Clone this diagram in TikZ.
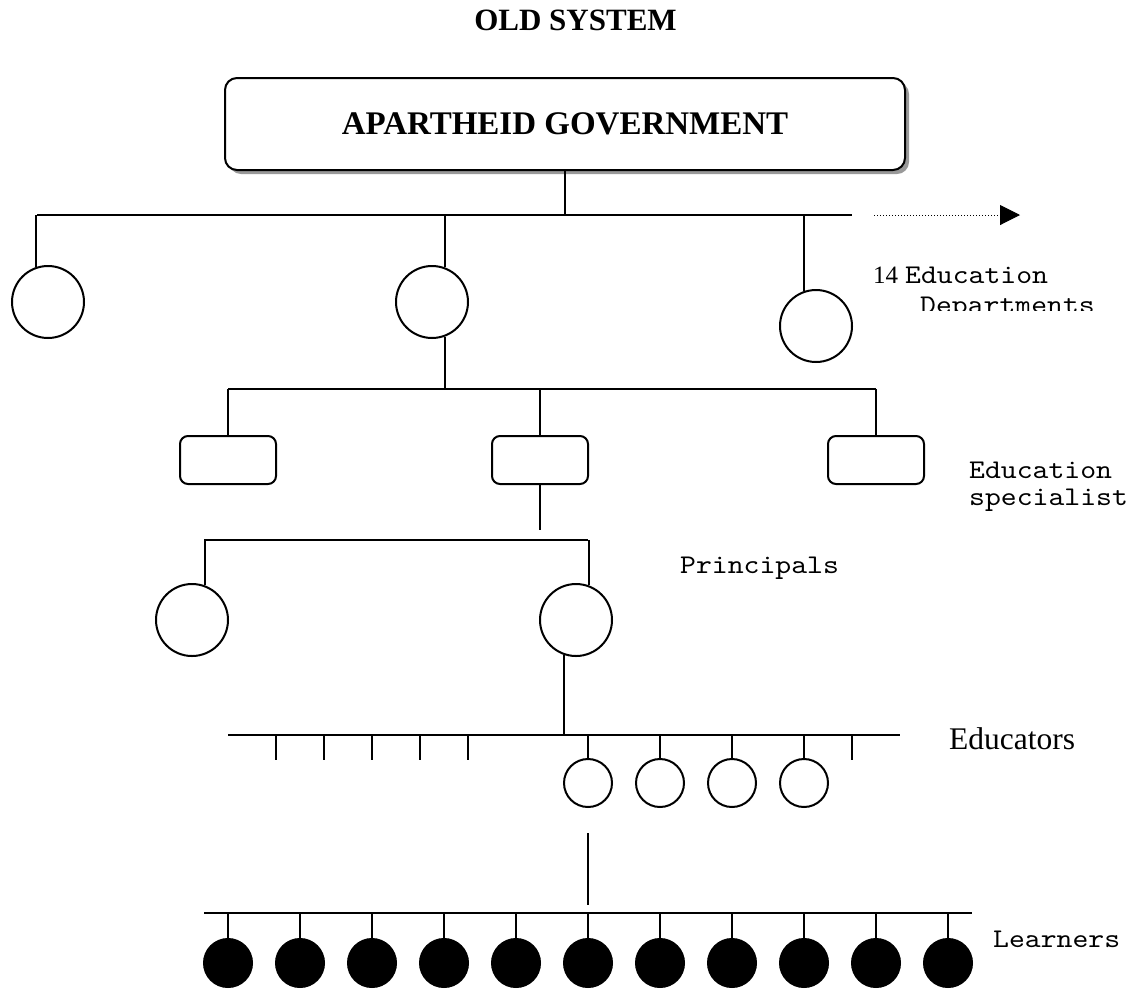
\documentclass[tikz,border=0pt]{standalone}
\usepackage{fontspec}
\setmainfont{Liberation Serif}
\newfontfamily\cour{lmmono10-regular}[Extension=.otf,FakeStretch=1.12]
\usetikzlibrary{arrows.meta,shadows}
\begin{document}
\begin{tikzpicture}[x=1pt,y=-1pt,
  ln/.style={line width=2pt},
  org/.style={draw,circle,minimum size=72pt,inner sep=0pt,line width=2pt},
  unitbox/.style={draw,rounded corners=8pt,minimum width=96pt,minimum height=48pt,inner sep=0pt,line width=2pt},
  educ/.style={draw,circle,minimum size=48pt,inner sep=0pt,line width=2pt},
  lrn/.style={draw,fill=black,circle,minimum size=49pt,inner sep=0pt,line width=1pt},
  mono/.style={font=\cour\fontsize{27}{28}\selectfont,anchor=base west,inner sep=0pt},
  serif/.style={anchor=base west,inner sep=0pt}]
\useasboundingbox (0,0) rectangle (1132,989);

% title
\node[anchor=base,inner sep=0pt,font=\fontsize{31}{36}\selectfont\bfseries] (title) at (575.5,30) {OLD SYSTEM};

% government box
\node[draw,line width=2pt,rounded corners=12pt,minimum width=680pt,minimum height=92pt,fill=white,
  drop shadow={shadow xshift=4pt,shadow yshift=-4pt,fill=gray!80,opacity=1},
  font=\fontsize{33}{38}\selectfont\bfseries] (gov) at (565,124) {APARTHEID GOVERNMENT};

% level 1 bus
\coordinate (b1L) at (37,215);
\coordinate (b1R) at (852,215);
\coordinate (b1M) at (565,215);
\draw[ln] (gov.south) -- (b1M);
\draw[ln] (b1L) -- (b1R);

% arrow
\coordinate (arrS) at (874,215);
\coordinate (arrE) at (1020,215);
\draw[line width=1pt,dotted,-{Triangle[length=20pt,width=20pt]}] (arrS) -- (arrE);

% departments
\node[org] (d1) at (48,302) {};
\node[org] (d2) at (432,302) {};
\node[org] (d3) at (816,326) {};
\draw[ln] (d1.109.4712) -- (d1.109.4712 |- b1L);
\draw[ln] (d2.70.5288) -- (d2.70.5288 |- b1L);
\draw[ln] (d3.109.4712) -- (d3.109.4712 |- b1L);

% level 2 bus
\coordinate (b2L) at (228,389);
\coordinate (b2R) at (876,389);
\draw[ln] (d2.-70.5288) -- (d2.-70.5288 |- b2L);
\draw[ln] (b2L) -- (b2R);

% specialist boxes
\node[unitbox] (s1) at (228,460) {};
\node[unitbox] (s2) at (540,460) {};
\node[unitbox] (s3) at (876,460) {};
\draw[ln] (s1.north) -- (s1.north |- b2L);
\draw[ln] (s2.north) -- (s2.north |- b2L);
\draw[ln] (s3.north) -- (s3.north |- b2L);
\coordinate (s2end) at (540,530);
\draw[ln] (s2.south) -- (s2end);

% level 3 bus
\coordinate (b3L) at (204,540);
\coordinate (b3R) at (588,540);
\draw[ln] (b3L) -- (b3R);

% principals
\node[org] (p1) at (192,620) {};
\node[org] (p2) at (576,620) {};
\draw[ln] (p1.70.5288) -- (p1.70.5288 |- b3L);
\draw[ln] (p2.70.5288) -- (p2.70.5288 |- b3L);

% level 4 bus
\coordinate (b4L) at (228,735);
\coordinate (b4R) at (900,735);
\draw[ln] (p2.-109.4712) -- (p2.-109.4712 |- b4L);
\draw[ln] (b4L) -- (b4R);
\foreach \x in {276,324,372,420,468,852}{
  \coordinate (t\x) at (\x,735);
  \draw[ln] (t\x) -- ++(0,25);
}

% educators
\foreach \i/\x in {1/588,2/660,3/732,4/804}{
  \node[educ] (e\i) at (\x,783) {};
  \draw[ln] (e\i.north) -- (e\i.north |- b4L);
}
\coordinate (e1a) at (588,833);
\coordinate (e1b) at (588,905);
\draw[ln] (e1a) -- (e1b);

% level 5 bus
\coordinate (b5L) at (204,913);
\coordinate (b5R) at (972,913);
\draw[ln] (b5L) -- (b5R);

% learners
\foreach \i in {0,...,10}{
  \node[lrn] (l\i) at ({228+72*\i},963) {};
  \draw[ln] (l\i.north) -- (l\i.north |- b5L);
}

% labels
\node[serif,font=\fontsize{25}{27}\selectfont] (n14) at (873,283) {14};
\node[mono] (ed1) at (905,283) {Education};
\begin{scope}
  \clip (900,290) rectangle (1132,310);
  \node[mono] (dep) at (920,313) {Departments};
\end{scope}
\node[mono] (ed2) at (969,478) {Education};
\node[mono] (spec) at (969,505) {specialist};
\node[mono] (prin) at (680,573) {Principals};
\node[serif,font=\fontsize{31.5}{34}\selectfont] (educ) at (949,749) {Educators};
\node[mono] (lrnr) at (993,947) {Learners};
\end{tikzpicture}
\end{document}
